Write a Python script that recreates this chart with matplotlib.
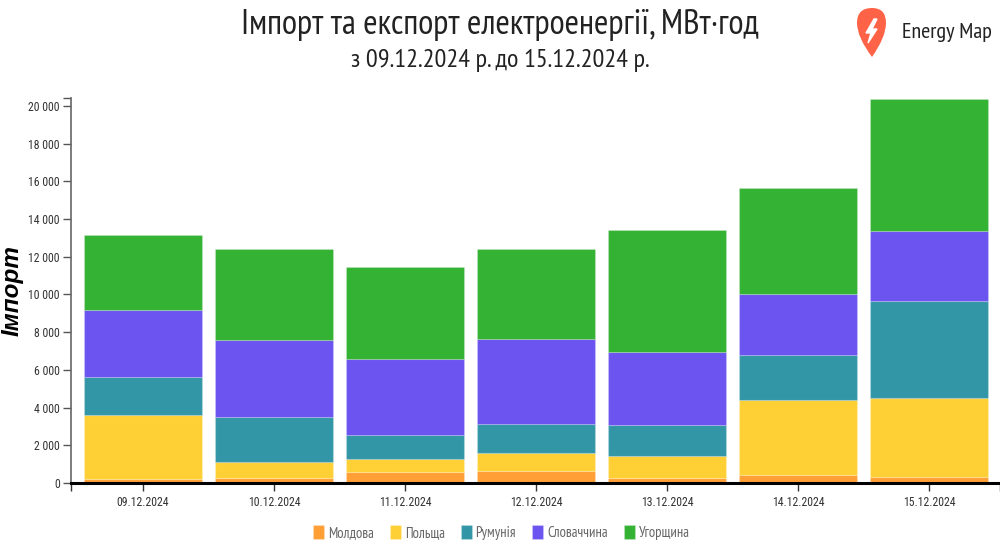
import matplotlib
matplotlib.use('Agg')
import matplotlib.pyplot as plt
from matplotlib.path import Path
from matplotlib.patches import PathPatch
from matplotlib.ticker import FuncFormatter

plt.rcParams['font.family'] = ['Roboto Condensed', 'Roboto', 'DejaVu Sans']
narrow = ['PT Sans Narrow', 'Roboto', 'DejaVu Sans']

dates = ['09.12.2024', '10.12.2024', '11.12.2024', '12.12.2024', '13.12.2024', '14.12.2024', '15.12.2024']
moldova = [200, 250, 590, 650, 250, 430, 340]
poland = [3400, 850, 690, 940, 1170, 3970, 4170]
romania = [2020, 2400, 1250, 1530, 1670, 2390, 5140]
slovakia = [3560, 4090, 4030, 4510, 3860, 3240, 3720]
hungary = [3970, 4810, 4890, 4770, 6470, 5620, 7000]

names = ['Молдова', 'Польща', 'Румунія', 'Словаччина', 'Угорщина']
series = [moldova, poland, romania, slovakia, hungary]
colors = ['#FF9F36', '#FFD036', '#3396A6', '#6C54F0', '#34B233']
y_ticks = list(range(0, 20001, 2000))

fig = plt.figure(figsize=(10, 5.5), dpi=100)
ax = fig.add_axes([0.071, 1 - 483 / 550, 0.929, 385 / 550])

x = list(range(len(dates)))
bottom = [0] * len(dates)
for name, vals, col in zip(names, series, colors):
    ax.bar(x, vals, width=0.9, bottom=bottom, color=col, label=name,
           edgecolor='#ffffff30', linewidth=0.8)
    bottom = [b + v for b, v in zip(bottom, vals)]

ax.set_xlim(-0.55, 6.54)
ax.set_ylim(0, 20420)
ax.set_xticks(x, dates)
ax.set_yticks(y_ticks)
ax.yaxis.set_major_formatter(FuncFormatter(lambda v, p: f'{int(v):,}'.replace(',', ' ')))
# end ticks of the axis lines
ax.set_xticks([-0.55, 6.54], minor=True)
ax.set_yticks([20420], minor=True)
ax.tick_params(axis='x', which='both', length=6, width=1, color='#333333', labelsize=8.5, labelcolor='#333333', pad=3)
ax.tick_params(axis='y', which='both', length=6, width=1, color='#555555', labelsize=8.5, labelcolor='#333333', pad=2)
ax.tick_params(axis='both', which='minor', labelbottom=False, labelleft=False)

for s in ['top', 'right']:
    ax.spines[s].set_visible(False)
ax.spines['left'].set_color('#666666')
ax.spines['left'].set_linewidth(1.2)
ax.spines['bottom'].set_color('black')
ax.spines['bottom'].set_linewidth(2.2)

fig.text(0.5, 1 - 25 / 550, 'Імпорт та експорт електроенергії, МВт·год', ha='center', va='center',
         fontsize=25, color='#222222', family=narrow)
fig.text(0.5, 1 - 61 / 550, 'з 09.12.2024 р. до 15.12.2024 р.', ha='center', va='center',
         fontsize=18.9, color='#222222', family=narrow)
fig.text(12 / 1000, 1 - 291 / 550, 'Імпорт', rotation=90, ha='center', va='center',
         fontsize=17.5, fontweight='bold', style='italic', color='black',
         family=['Liberation Sans', 'DejaVu Sans'])
fig.text(902 / 1000, 1 - 33 / 550, 'Energy Map', ha='left', va='center', fontsize=16, color='#222222',
         family=narrow)

fig.legend(loc='lower left', bbox_to_anchor=(313 / 1000, 1 - 540 / 550), ncol=5, frameon=False,
           handlelength=0.75, handleheight=1.0,
           handletextpad=0.27, columnspacing=1.1, borderpad=0, borderaxespad=0,
           labelcolor='#666666', prop={'family': narrow, 'size': 10.5})

# logo pin, drawn in pixel coordinates
over = fig.add_axes([0, 0, 1, 1])
over.set_xlim(0, 1000)
over.set_ylim(550, 0)
over.axis('off')
pin = Path([(872, 57), (857, 37), (857, 23), (857, 8), (872, 8), (886, 8), (886, 23), (886, 37), (872, 57)],
           [Path.MOVETO] + [Path.CURVE3] * 8)
over.add_patch(PathPatch(pin, facecolor='#FF6347', edgecolor='none'))
over.fill([874, 866, 871, 868, 877, 872, 877], [19, 33, 33, 43, 29, 29, 19], color='white')

plt.savefig('out.png')
plt.close()
